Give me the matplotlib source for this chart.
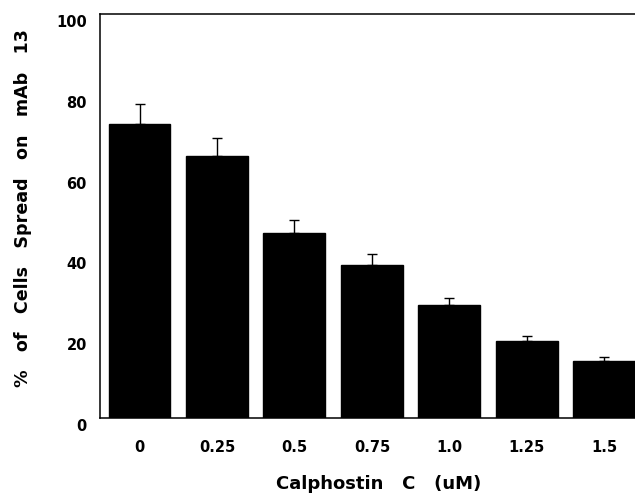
import numpy as np
import matplotlib.pyplot as plt
import matplotlib.transforms as mtransforms

# Calphostin C dose vs spreading
doses = ['0', '0.25', '0.5', '0.75', '1.0', '1.25', '1.5']
spread_pct = [72.8, 64.9, 45.8, 37.9, 28.0, 19.1, 14.1]
spread_err = [4.9, 4.4, 3.2, 2.7, 1.7, 1.2, 1.0]
y_ticks = [0, 20, 40, 60, 80, 100]

plt.rcParams['font.family'] = ['DejaVu Sans']

fig = plt.figure(figsize=(6.35, 4.95), dpi=100)
# axes run a little past the right edge, like the cropped original
ax = fig.add_axes([100 / 635, 77 / 495, 543 / 635, 404 / 495])

x = np.arange(len(doses))
ax.bar(x, spread_pct, width=0.8, color='black', edgecolor='black',
       yerr=[np.zeros(len(spread_err)), spread_err],
       error_kw=dict(ecolor='black', elinewidth=1.0, capsize=3.5, capthick=1.0))

ax.set_xlim(-0.51, 6.5)
ax.set_ylim(0, 100)
ax.set_xticks(x)
ax.set_xticklabels(doses)
ax.set_yticks(y_ticks)
ax.set_yticklabels([str(v) for v in y_ticks])

ax.tick_params(axis='both', length=0, labelsize=10.5)
ax.tick_params(axis='x', pad=16)
ax.tick_params(axis='y', pad=9.5)
for lbl in ax.get_yticklabels():
    lbl.set_fontweight('bold')
    lbl.set_transform(lbl.get_transform() +
                      mtransforms.ScaledTranslation(0, -7 / 100, fig.dpi_scale_trans))
for lbl in ax.get_xticklabels():
    lbl.set_fontweight('bold')

for side in ['left', 'bottom', 'top']:
    ax.spines[side].set_linewidth(1.1)
ax.spines['right'].set_visible(False)

ax.set_xlabel('Calphostin   C   (uM)', fontsize=13, fontweight='bold')
ax.set_ylabel('%   of   Cells   Spread   on   mAb   13', fontsize=12.6, fontweight='bold')
ax.xaxis.set_label_coords(0.514, -0.141)
ax.yaxis.set_label_coords(-0.125, 0.52)

plt.savefig('out.png', dpi=100)
